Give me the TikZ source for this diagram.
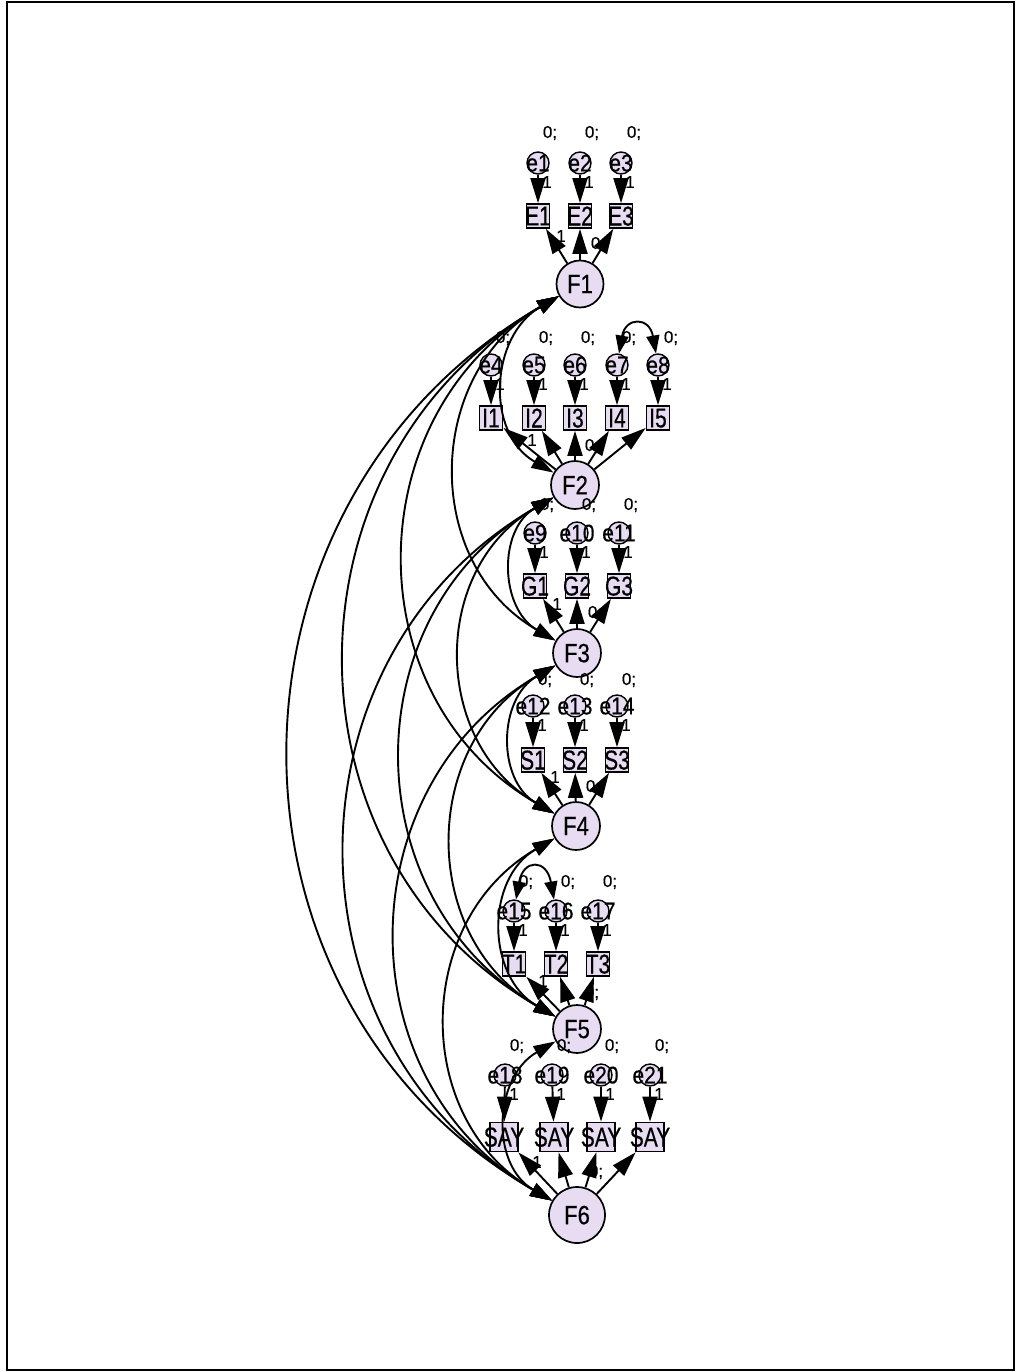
\documentclass[tikz,border=0pt]{standalone}
\usepackage{fontspec}
\setmainfont{Liberation Sans}[FakeBold=0.5]
\usepackage{graphicx}
\usetikzlibrary{arrows.meta}
\newcommand{\vtxt}[2]{\makebox[0pt]{\raisebox{-.5\height}[0pt][0pt]{\scalebox{1}[#1]{#2}}}}
\definecolor{lav}{RGB}{232,220,243}
\begin{document}
\begin{tikzpicture}[x=1pt,y=1pt,
 fac/.style={circle,draw,line width=1.7pt,fill=lav,minimum size=47pt,inner sep=0pt,font=\fontsize{22}{22}\selectfont},
 ind/.style={rectangle,draw,line width=1.7pt,fill=lav,minimum width=23pt,minimum height=24pt,inner sep=0pt,font=\fontsize{21}{21}\selectfont},
 err/.style={circle,draw,line width=1.4pt,fill=lav,minimum size=22pt,inner sep=0pt,font=\fontsize{21}{21}\selectfont},
 sl/.style={font=\fontsize{17}{17}\selectfont,inner sep=0pt},
 arr/.style={-{Triangle[length=25pt,width=15pt]},line width=1.9pt},
 cov/.style={{Triangle[length=22pt,width=14pt]}-{Triangle[length=22pt,width=14pt]},line width=1.9pt},
 ecov/.style={{Triangle[length=18pt,width=13pt]}-{Triangle[length=18pt,width=13pt]},line width=1.9pt},
]
\useasboundingbox (0,0) rectangle (1019,-1372);
\draw[line width=1.5pt] (7,-2) rectangle (1014,-1370);

% factors
\node[fac] (F1) at (580,-284) {\vtxt{1.2}{F1}};
\node[fac,minimum size=48pt] (F2) at (575,-485) {\vtxt{1.2}{F2}};
\node[fac,minimum size=48pt] (F3) at (577,-653) {\vtxt{1.2}{F3}};
\node[fac,minimum size=48pt] (F4) at (576,-826) {\vtxt{1.2}{F4}};
\node[fac,minimum size=48pt] (F5) at (577,-1029) {\vtxt{1.2}{F5}};
\node[fac,minimum size=56pt] (F6) at (577,-1215) {\vtxt{1.2}{F6}};

% indicators
\node[ind] (E1) at (538,-216) {\vtxt{1.3}{E1}};
\node[ind] (E2) at (580,-216) {\vtxt{1.3}{E2}};
\node[ind] (E3) at (621,-216) {\vtxt{1.3}{E3}};
\node[ind] (I1) at (491,-418) {\vtxt{1.3}{I1}};
\node[ind] (I2) at (534,-418) {\vtxt{1.3}{I2}};
\node[ind] (I3) at (575,-418) {\vtxt{1.3}{I3}};
\node[ind] (I4) at (617,-418) {\vtxt{1.3}{I4}};
\node[ind] (I5) at (658,-418) {\vtxt{1.3}{I5}};
\node[ind] (G1) at (535,-586) {\vtxt{1.3}{G1}};
\node[ind] (G2) at (577,-586) {\vtxt{1.3}{G2}};
\node[ind] (G3) at (619,-586) {\vtxt{1.3}{G3}};
\node[ind] (S1) at (533,-760) {\vtxt{1.3}{S1}};
\node[ind] (S2) at (575,-760) {\vtxt{1.3}{S2}};
\node[ind] (S3) at (617,-760) {\vtxt{1.3}{S3}};
\node[ind] (T1) at (514,-964) {\vtxt{1.3}{T1}};
\node[ind] (T2) at (556,-964) {\vtxt{1.3}{T2}};
\node[ind] (T3) at (598,-964) {\vtxt{1.3}{T3}};
\node[ind,minimum width=28pt,minimum height=29pt] (Y1) at (504,-1137) {\vtxt{1.3}{SAY}};
\node[ind,minimum width=28pt,minimum height=29pt] (Y2) at (554,-1137) {\vtxt{1.3}{SAY}};
\node[ind,minimum width=28pt,minimum height=29pt] (Y3) at (601,-1137) {\vtxt{1.3}{SAY}};
\node[ind,minimum width=28pt,minimum height=29pt] (Y4) at (650,-1137) {\vtxt{1.3}{SAY}};

% errors
\node[err] (e1) at (538,-163) {\vtxt{1.15}{e1}};
\node[err] (e2) at (580,-163) {\vtxt{1.15}{e2}};
\node[err] (e3) at (621,-163) {\vtxt{1.15}{e3}};
\node[err] (e4) at (491,-365) {\vtxt{1.15}{e4}};
\node[err] (e5) at (534,-365) {\vtxt{1.15}{e5}};
\node[err] (e6) at (575,-365) {\vtxt{1.15}{e6}};
\node[err] (e7) at (617,-365) {\vtxt{1.15}{e7}};
\node[err] (e8) at (658,-365) {\vtxt{1.15}{e8}};
\node[err] (e9) at (535,-533) {\vtxt{1.15}{e9}};
\node[err] (e10) at (577,-533) {\vtxt{1.15}{e10}};
\node[err] (e11) at (619,-533) {\vtxt{1.15}{e11}};
\node[err] (e12) at (533,-706) {\vtxt{1.15}{e12}};
\node[err] (e13) at (575,-706) {\vtxt{1.15}{e13}};
\node[err] (e14) at (617,-706) {\vtxt{1.15}{e14}};
\node[err] (e15) at (514,-911) {\vtxt{1.15}{e15}};
\node[err] (e16) at (556,-911) {\vtxt{1.15}{e16}};
\node[err] (e17) at (598,-911) {\vtxt{1.15}{e17}};
\node[err] (e18) at (505,-1075) {\vtxt{1.15}{e18}};
\node[err] (e19) at (552,-1075) {\vtxt{1.15}{e19}};
\node[err] (e20) at (601,-1075) {\vtxt{1.15}{e20}};
\node[err] (e21) at (650,-1075) {\vtxt{1.15}{e21}};

% error mean/variance labels
\foreach \i/\x/\y in {m1/550/133,m2/592/133,m3/634/133,
  m4/503/338,m5/546/338,m6/588/338,m7/629/338,m8/671/338,
  m9/547/505,m10/589/505,m11/631/505,
  m12/545/680,m13/587/680,m14/629/680,
  m15/526/882,m16/568/882,m17/610/882,
  m18/517/1046,m19/564/1046,m20/612/1046,m21/662/1046}
  \node[sl] (\i) at (\x,-\y) {0;};

% error path labels
\foreach \i/\x/\y in {r1/538/163,r2/580/163,r3/621/163,
  r4/491/365,r5/534/365,r6/575/365,r7/617/365,r8/658/365,
  r9/535/533,r10/577/533,r11/619/533,
  r12/533/706,r13/575/706,r14/617/706,
  r15/514/911,r16/556/911,r17/598/911,
  r18/505/1075,r19/552/1075,r20/601/1075,r21/650/1075}
  \node[sl] (\i) at (\x+9,-\y-19) {1};

% loading labels
\node[sl] (l1a) at (561,-236) {1};
\node[sl] (l1b) at (598,-244) {0;};
\node[sl] (l2a) at (532,-440) {1};
\node[sl] (l2b) at (592,-446) {0;};
\node[sl] (l3a) at (557,-604) {1};
\node[sl] (l3b) at (595,-613) {0;};
\node[sl] (l4a) at (555,-777) {1};
\node[sl] (l4b) at (593,-787) {0;};
\node[sl] (l5a) at (543,-981) {1};
\node[sl] (l5b) at (592,-993) {0;};
\node[sl] (l6a) at (537,-1162) {1};
\node[sl] (l6b) at (596,-1172) {0;};

% error -> indicator
\foreach \e/\v in {e1/E1,e2/E2,e3/E3,e4/I1,e5/I2,e6/I3,e7/I4,e8/I5,
  e9/G1,e10/G2,e11/G3,e12/S1,e13/S2,e14/S3,e15/T1,e16/T2,e17/T3,
  e18/Y1,e19/Y2,e20/Y3,e21/Y4}
  \draw[arr] (\e) -- (\v);

% factor -> indicator
\foreach \f/\v in {F1/E1,F1/E2,F1/E3,F2/I1,F2/I2,F2/I3,F2/I4,F2/I5,
  F3/G1,F3/G2,F3/G3,F4/S1,F4/S2,F4/S3,F5/T1,F5/T2,F5/T3,
  F6/Y1,F6/Y2,F6/Y3,F6/Y4}
  \draw[arr] (\f) -- (\v);

% error covariances
\draw[ecov] (e7) to[out=80,in=100,looseness=2.6] (e8);
\draw[ecov] (e15) to[out=80,in=100,looseness=2.8] (e16);

% factor covariances
\foreach \a/\b in {F1/F2,F1/F3,F1/F4,F1/F5,F1/F6,F2/F3,F2/F4,F2/F5,F2/F6,
  F3/F4,F3/F5,F3/F6,F4/F5,F4/F6,F5/F6}
  \draw[cov] (\a) to[out=210,in=150,looseness=1.15] (\b);
\end{tikzpicture}
\end{document}
